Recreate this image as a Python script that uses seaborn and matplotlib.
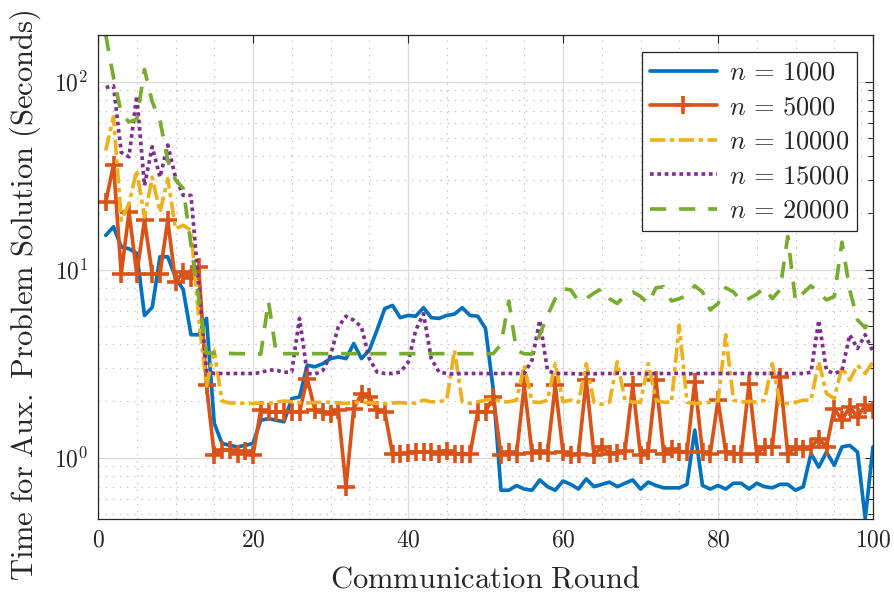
import numpy as np
import pandas as pd
import matplotlib
matplotlib.use("Agg")
import matplotlib.pyplot as plt
import seaborn as sns
from matplotlib.ticker import MultipleLocator, FuncFormatter, LogLocator, NullFormatter

rounds = list(range(1, 101))

t_n1000 = [15.2, 16.9, 13.2, 12.9, 12.2, 5.7, 6.3, 11.7, 11.7, 9.1,
           7.8, 4.5, 4.5, 5.5, 1.52, 1.19, 1.16, 1.14, 1.16, 1.19,
           1.58, 1.61, 1.58, 1.55, 2.06, 2.1, 3.1, 3.04, 3.16, 3.36,
           3.43, 3.36, 4.04, 3.36, 3.72, 4.76, 6.2, 6.45, 5.55, 5.7,
           5.65, 6.27, 5.55, 5.5, 5.7, 5.8, 6.27, 5.7, 5.65, 4.86,
           2.3, 0.67, 0.67, 0.71, 0.68, 0.67, 0.76, 0.70, 0.67, 0.75,
           0.72, 0.68, 0.77, 0.70, 0.72, 0.74, 0.70, 0.73, 0.76, 0.68,
           0.74, 0.71, 0.69, 0.69, 0.69, 0.72, 1.40, 0.71, 0.68, 0.71,
           0.68, 0.73, 0.73, 0.68, 0.73, 0.70, 0.69, 0.72, 0.72, 0.67,
           0.70, 1.05, 0.89, 1.07, 0.91, 1.14, 1.16, 1.07, 0.474, 1.14]

t_n5000 = [22.9, 36.0, 9.5, 20.2, 9.5, 18.3, 9.5, 9.5, 18.3, 8.6,
           9.7, 9.0, 10.3, 2.42, 1.03, 1.1, 1.1, 1.05, 1.08, 1.03,
           1.79, 1.75, 1.75, 1.75, 1.75, 1.75, 2.63, 1.79, 1.75, 1.71,
           1.79, 0.70, 1.82, 2.19, 2.1, 1.79, 1.75, 1.05, 1.05, 1.06,
           1.07, 1.07, 1.07, 1.05, 1.09, 1.05, 1.04, 1.04, 1.75, 1.75,
           2.1, 1.03, 1.07, 1.04, 2.42, 1.06, 1.08, 1.06, 2.42, 1.07,
           1.03, 1.05, 2.58, 1.03, 1.14, 1.05, 1.06, 1.09, 2.42, 1.03,
           1.09, 2.58, 1.05, 1.11, 1.07, 1.07, 2.53, 1.07, 1.05, 2.02,
           1.07, 1.05, 1.05, 2.47, 1.05, 1.14, 1.14, 2.69, 1.05, 1.14,
           1.11, 1.14, 1.26, 1.14, 1.82, 1.58, 1.86, 1.64, 1.9, 1.79]

t_n10000 = [43.0, 65.0, 18.3, 22.4, 33.8, 19.0, 31.0, 20.2, 30.5, 16.5,
            17.2, 16.2, 5.5, 2.4, 3.7, 2.0, 1.95, 1.95, 1.94, 1.94,
            1.95, 1.94, 1.97, 2.0, 1.98, 1.96, 1.95, 1.96, 1.97, 1.97,
            1.95, 1.94, 1.96, 1.97, 1.96, 1.94, 1.93, 1.95, 1.96, 1.94,
            1.95, 2.02, 1.98, 1.98, 2.03, 3.72, 1.98, 1.94, 1.98, 2.02,
            2.05, 1.98, 1.98, 2.02, 3.1, 1.98, 1.96, 2.02, 3.16, 1.98,
            2.02, 1.97, 3.16, 1.97, 1.92, 1.97, 3.23, 2.02, 1.97, 1.97,
            3.16, 2.02, 1.97, 1.97, 5.06, 1.97, 1.94, 1.95, 1.97, 2.0,
            4.5, 2.02, 1.97, 1.99, 1.97, 2.02, 3.16, 1.94, 1.94, 1.97,
            2.02, 2.02, 3.23, 2.19, 2.06, 3.03, 2.58, 3.1, 2.8, 3.23]

t_n15000 = [93.0, 95.0, 42.0, 39.8, 84.0, 28.0, 45.0, 31.0, 46.0, 31.0,
            24.8, 24.8, 8.3, 2.9, 2.8, 2.8, 2.8, 2.8, 2.8, 2.8,
            2.83, 2.92, 2.92, 2.84, 2.86, 5.5, 2.8, 2.78, 2.9, 3.5,
            4.95, 5.65, 5.38, 4.95, 3.36, 2.85, 2.8, 2.8, 2.85, 3.2,
            4.76, 5.83, 3.36, 2.85, 2.8, 2.78, 2.8, 2.8, 2.8, 2.8,
            2.8, 2.8, 2.8, 2.8, 2.8, 3.3, 5.38, 2.9, 2.8, 2.8,
            2.8, 2.78, 2.8, 2.79, 2.8, 2.8, 2.81, 2.8, 2.8, 2.8,
            2.79, 2.8, 2.8, 2.8, 2.81, 2.79, 2.8, 2.8, 2.8, 2.8,
            2.8, 2.8, 2.8, 2.8, 2.8, 2.8, 2.8, 2.8, 2.8, 2.8,
            2.8, 2.84, 5.38, 2.9, 2.8, 2.9, 4.5, 3.8, 4.5, 3.65]

t_n20000 = [177.0, 105.0, 68.0, 61.0, 63.0, 116.0, 78.0, 62.0, 38.0, 30.0,
            27.0, 13.5, 7.0, 3.6, 3.6, 3.6, 3.58, 3.57, 3.57, 3.56,
            3.55, 6.8, 3.57, 3.57, 3.57, 3.57, 3.57, 3.57, 3.57, 3.57,
            3.57, 3.57, 3.57, 3.57, 3.57, 3.57, 3.57, 3.57, 3.57, 3.57,
            3.57, 3.57, 3.57, 3.57, 3.57, 3.57, 3.57, 3.57, 3.57, 3.57,
            3.57, 4.0, 6.8, 3.7, 3.57, 3.55, 4.5, 5.7, 7.0, 7.9,
            7.8, 6.8, 7.0, 7.5, 7.9, 7.0, 6.6, 7.3, 7.6, 7.2,
            6.6, 8.0, 8.1, 6.8, 7.0, 7.3, 8.2, 7.6, 6.1, 6.6,
            8.0, 7.6, 6.8, 7.0, 7.4, 8.0, 7.0, 7.8, 15.0, 6.8,
            7.5, 8.2, 7.5, 6.9, 7.2, 14.0, 7.8, 5.4, 4.9, 6.0]

labels = [r"$n\,=\,1000$", r"$n\,=\,5000$", r"$n\,=\,10000$", r"$n\,=\,15000$", r"$n\,=\,20000$"]
colors = ["#0072BD", "#D95319", "#EDB120", "#7E2F8E", "#77AC30"]
values = [t_n1000, t_n5000, t_n10000, t_n15000, t_n20000]

sns.set_theme(style="white")
plt.rcParams["mathtext.fontset"] = "cm"
plt.rcParams["font.family"] = ["DejaVu Serif"]

fig = plt.figure(figsize=(8.94, 6.01), dpi=100)
W, H = 894, 601
ax = fig.add_axes([98 / W, 1 - 518.5 / H, 775 / W, (518.5 - 35) / H])

styles = [
    dict(ls="-", marker=None),
    dict(ls="-", marker="+"),
    dict(ls=(0, (4.2, 1.2, 1.2, 1.2)), marker=None),
    dict(ls=(0, (1.0, 1.0)), marker=None),
    dict(ls=(0, (4.4, 3.5)), marker=None),
]

for lab, vals, col, sty in zip(labels, values, colors, styles):
    df = pd.DataFrame({"round": rounds, "time": vals})
    n_before = len(ax.lines)
    sns.lineplot(data=df, x="round", y="time", ax=ax, color=col, label=lab,
                 linewidth=2.65, errorbar=None, estimator=None)
    line = ax.lines[n_before]
    line.set_linestyle(sty["ls"])
    if sty["marker"]:
        line.set_marker(sty["marker"])
        line.set_markersize(13)
        line.set_markeredgewidth(2.6)
        line.set_markeredgecolor(col)
    else:
        line.set_marker("None")

ax.set_yscale("log")
ax.set_xlim(0, 100)
ax.set_ylim(min(t_n1000), max(t_n20000))

ax.xaxis.set_major_locator(MultipleLocator(20))
ax.xaxis.set_minor_locator(MultipleLocator(5))
ax.xaxis.set_major_formatter(FuncFormatter(lambda v, p: f"${v:.0f}$"))
ax.yaxis.set_major_locator(LogLocator(base=10, numticks=10))
ax.yaxis.set_minor_locator(LogLocator(base=10, subs=np.arange(2, 10), numticks=20))
ax.yaxis.set_major_formatter(FuncFormatter(lambda v, p: f"$10^{{{int(round(np.log10(v)))}}}$"))
ax.yaxis.set_minor_formatter(NullFormatter())

ax.grid(True, which="major", color="#dcdcdc", linestyle="-", linewidth=0.9)
ax.grid(True, which="minor", color="#c4c4c4", linestyle=(0, (1.2, 4.5)), linewidth=0.9)
ax.set_axisbelow(True)

for s in ax.spines.values():
    s.set_color("#262626")
    s.set_linewidth(0.9)
    s.set_visible(True)

ax.tick_params(which="both", direction="in", top=True, right=True, color="#262626",
               labelsize=17, labelcolor="#262626", pad=7)
ax.tick_params(which="major", length=6, width=0.8)
ax.tick_params(axis="y", which="minor", length=3.5, width=0.7)
ax.tick_params(axis="x", which="minor", length=0)

ax.set_xlabel(r"$\mathrm{Communication\ Round}$", fontsize=22, color="#262626", labelpad=9)
ax.set_ylabel(r"$\mathrm{Time\ for\ Aux.\ Problem\ Solution\ (Seconds)}$", fontsize=22,
              color="#262626")
ax.yaxis.set_label_coords(-0.071, (518.5 - 295) / (518.5 - 35))

leg = ax.legend(loc="upper right", bbox_to_anchor=(0.9795, 0.965), fontsize=19,
                frameon=True, fancybox=False, framealpha=1, edgecolor="#262626",
                handlelength=2.55, handletextpad=0.45, labelspacing=0.36,
                borderpad=0.3, borderaxespad=0.0)
leg.get_frame().set_linewidth(0.9)

fig.savefig("out.png", dpi=100)
